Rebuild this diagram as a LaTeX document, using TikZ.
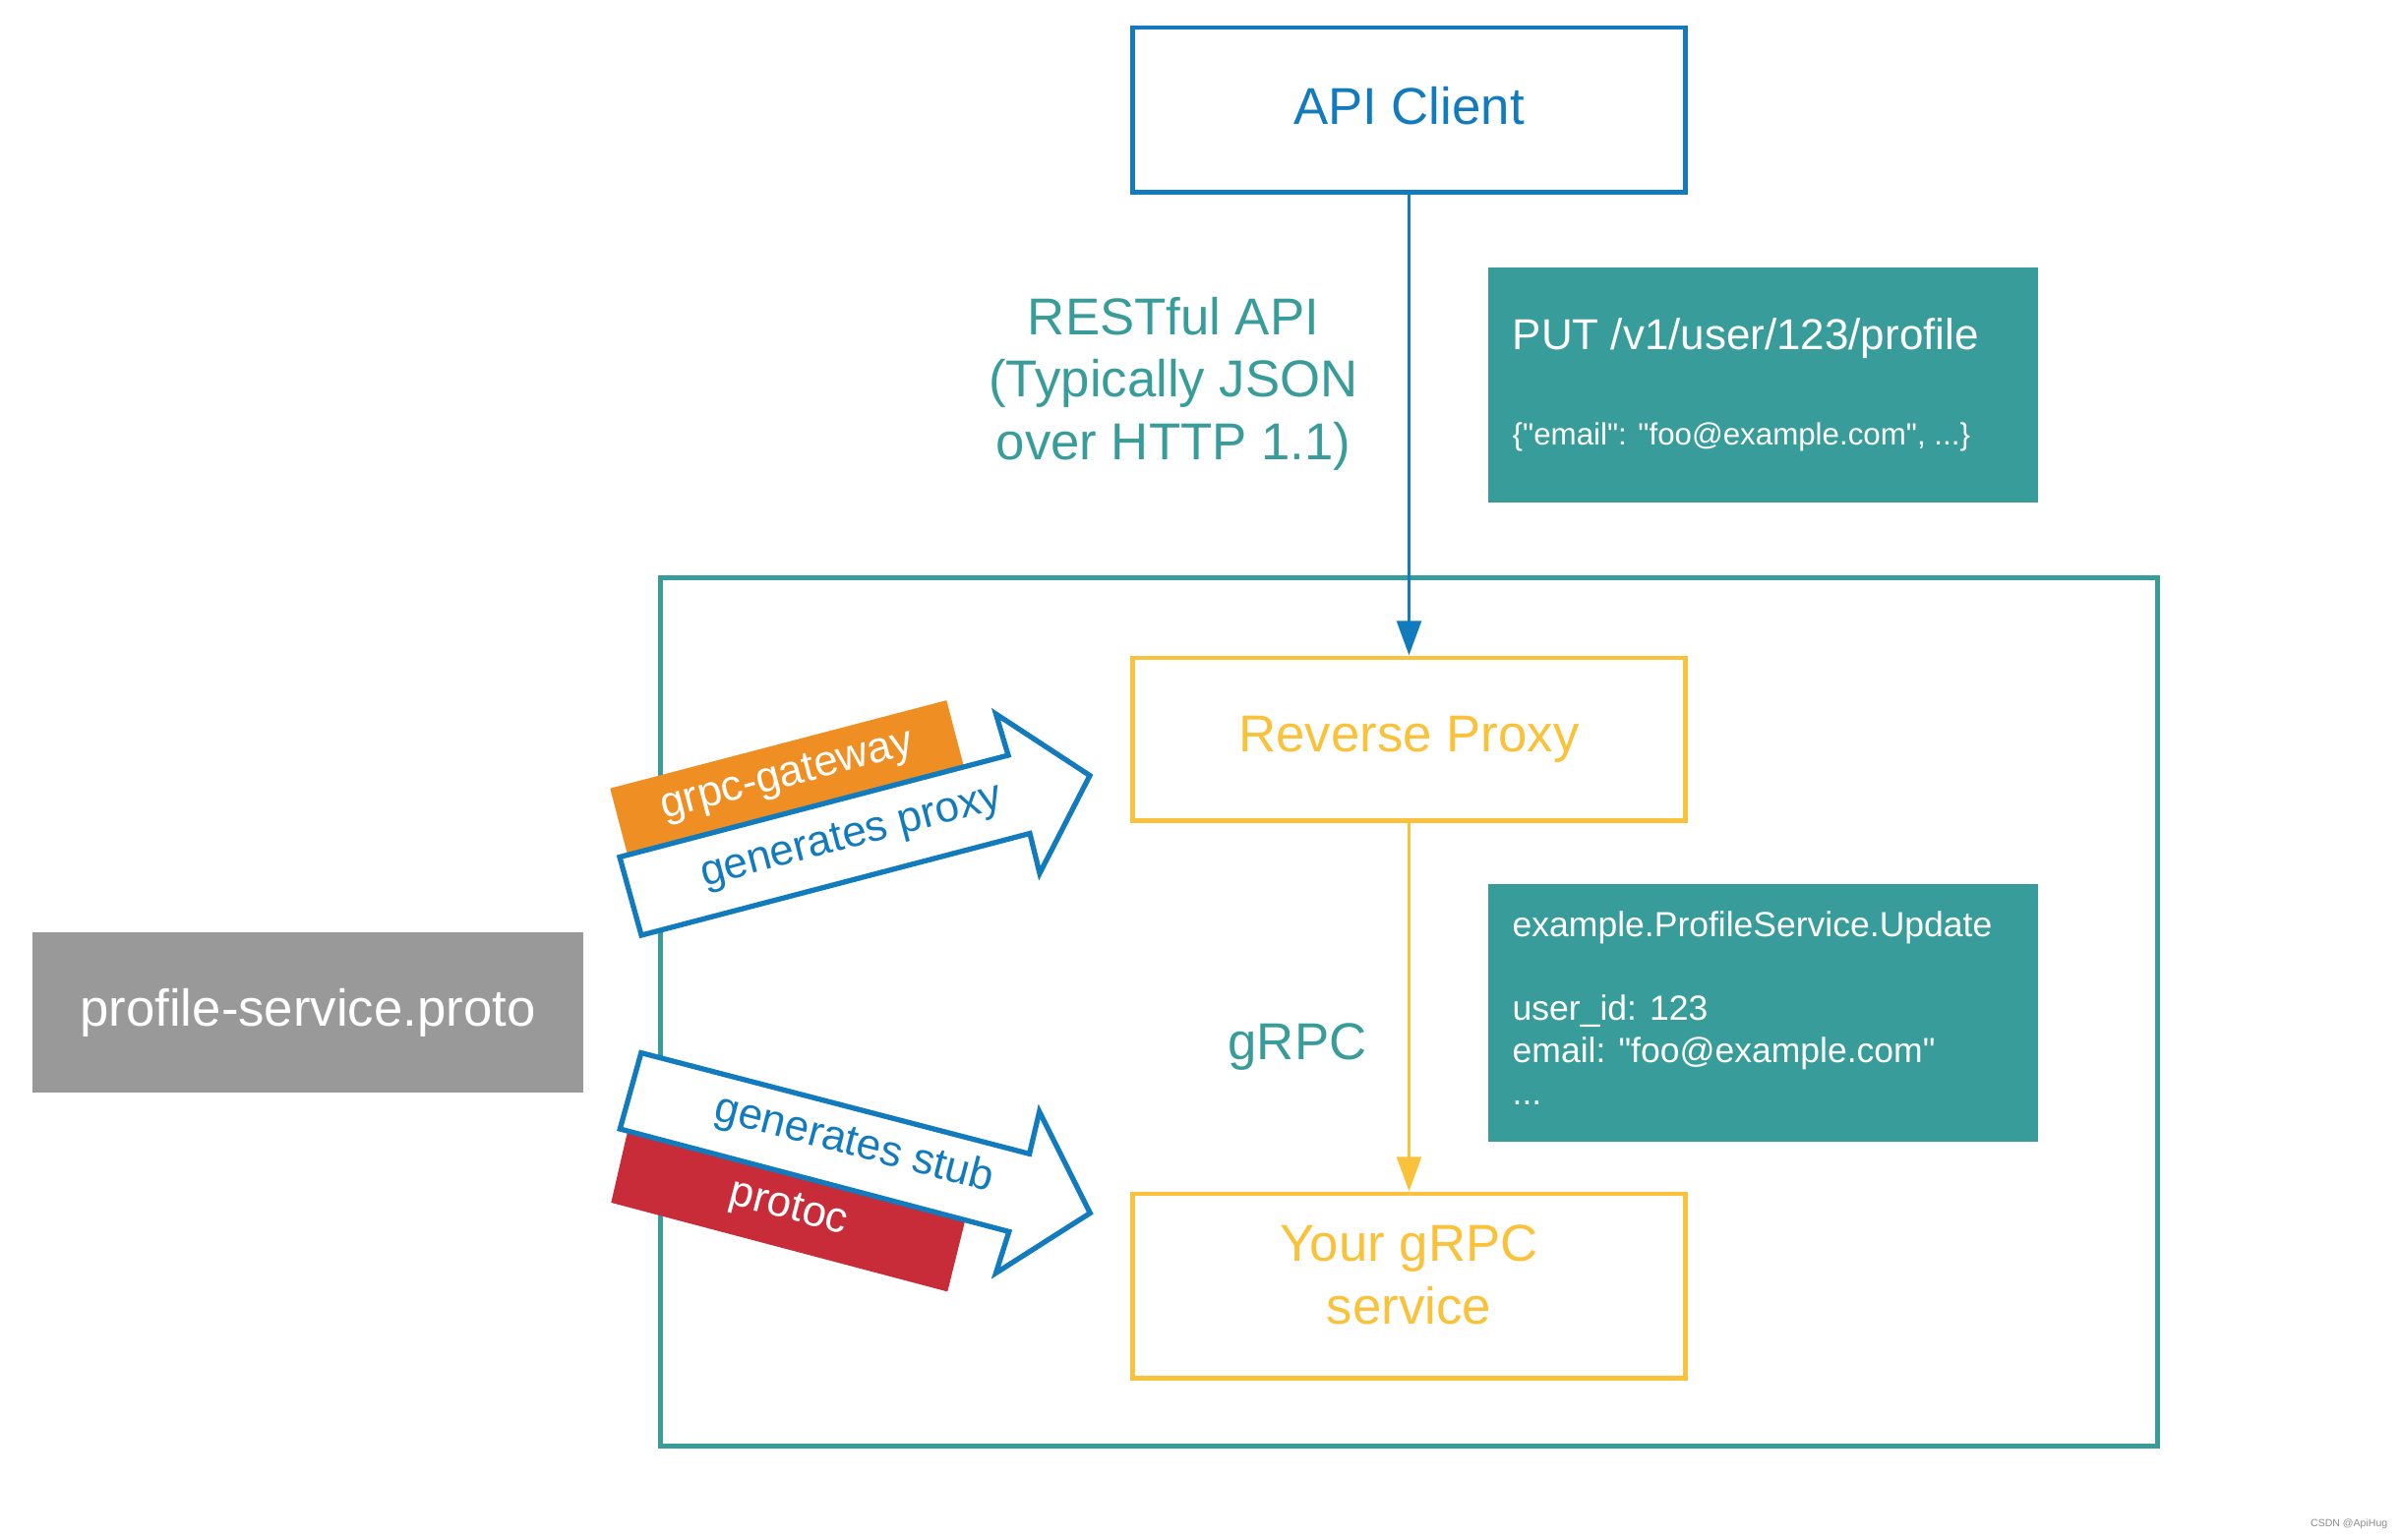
\documentclass[tikz,border=0pt]{standalone}
\usepackage{fontspec}
\setmainfont{Liberation Sans}[Ligatures=TeXOff]
\usetikzlibrary{arrows.meta}
\definecolor{cblue}{RGB}{18,123,190}
\definecolor{cteal}{RGB}{56,157,154}
\definecolor{cyellow}{RGB}{250,194,58}
\definecolor{corange}{RGB}{239,142,34}
\definecolor{cred}{RGB}{199,44,56}
\definecolor{cgray}{RGB}{153,153,153}
\begin{document}
\begin{tikzpicture}[x=0.01cm,y=-0.01cm,
  box/.style={draw, line width=1.4pt, minimum width=5.61cm, inner sep=0pt, font=\fontsize{15}{18.2}\selectfont},
  note/.style={fill=cteal, draw=none, minimum width=5.59cm, inner sep=0pt},
  notetext/.style={anchor=base west, text=white, inner sep=0pt},
  conn/.style={line width=1.1pt, -{Triangle[length=10pt,width=7pt]}},
  bigarrow/.style={draw=cblue, line width=1.5pt, fill=white, line join=miter},
  arrowlabel/.style={text=cblue, font=\fontsize{12.5}{14}\selectfont, inner sep=0pt},
  bandlabel/.style={text=white, font=\fontsize{12.5}{14}\selectfont, inner sep=0pt},
  big/.style={font=\fontsize{15}{18.1}\selectfont}
]
\useasboundingbox (0,0) rectangle (2441,1565);

% container
\node[draw=cteal, line width=1.5pt, minimum width=15.21cm, minimum height=8.82cm, inner sep=0pt] (gw) at (1432.5,1029) {};

% main boxes
\node[box, draw=cblue, text=cblue, minimum height=1.67cm] (api) at (1432.5,111.5) {};
\node[big, text=cblue, inner sep=0pt] (apitext) at (1432.5,108) {API Client};
\node[box, draw=cyellow, text=cyellow, minimum height=1.65cm] (proxy) at (1432.5,751.5) {Reverse Proxy};
\node[box, draw=cyellow, minimum height=1.87cm] (svc) at (1432.5,1307.5) {};
\node[big, text=cyellow, align=center, inner sep=0pt] (svctext) at (1432.5,1296) {Your gRPC\\service};

% connectors
\draw[conn, cblue] (api.south) -- (proxy.north);
\draw[conn, cyellow] (proxy.south) -- (svc.north);

% labels
\node[big, text=cteal, align=center, inner sep=0pt] (rest) at (1193,390) {RESTful API\\(Typically JSON\\over HTTP 1.1)};
\node[big, text=cteal, anchor=base, inner sep=0pt] (grpc) at (1319,1077) {gRPC};

% notes
\node[note, minimum height=2.39cm] (put) at (1792.5,391.5) {};
\node[notetext, font=\fontsize{12.5}{15}\selectfont] (put1) at (1537,355) {PUT /v1/user/123/profile};
\node[notetext, font=\fontsize{8.9}{11}\selectfont] (put2) at (1537,452) {\{"email": "foo@example.com", ...\}};

\node[note, minimum height=2.62cm] (ex) at (1792.5,1030) {};
\node[notetext, font=\fontsize{10.1}{12}\selectfont] (ex1) at (1537,952) {example.ProfileService.Update};
\node[notetext, font=\fontsize{10.1}{12}\selectfont] (ex2) at (1537,1037) {user\_id: 123};
\node[notetext, font=\fontsize{10.1}{12}\selectfont] (ex3) at (1537,1080) {email: "foo@example.com"};
\node[notetext, font=\fontsize{10.1}{12}\selectfont] (ex4) at (1537,1123) {...};

% proto file
\node[fill=cgray, minimum width=5.6cm, minimum height=1.63cm, inner sep=0pt, text=white, big] (proto) at (313,1029.5) {profile-service.proto};

% bands
\fill[corange] (620.3,801.7) -- (962.3,712.1) -- (980,779.8) -- (638,869.4) -- cycle;
\fill[cred] (638.1,1150.1) -- (981.3,1240.7) -- (963.3,1313.4) -- (621.3,1222.9) -- cycle;

% big arrows
\draw[bigarrow] (630,871.5) -- (1025,768) -- (1012.5,726) -- (1108,788.6) -- (1057,888) -- (1047,847.5) -- (652,951) -- cycle;
\draw[bigarrow] (651.8,1070.6) -- (1046.6,1173.3) -- (1056.7,1130.3) -- (1108.3,1233.5) -- (1012.5,1294.5) -- (1025.8,1252.4) -- (630.3,1148) -- cycle;

\node[bandlabel, rotate=14.7] (gwlabel) at (800.5,790) {grpc-gateway};
\node[arrowlabel, rotate=14.7] (proxylabel) at (866,852) {generates proxy};
\node[arrowlabel, rotate=-14.6] (stublabel) at (868,1164) {generates stub};
\node[bandlabel, rotate=-14.6] (protoclabel) at (801.5,1230) {protoc};

% watermark
\node[text=black!45, font=\fontsize{3}{4}\selectfont, anchor=base east, inner sep=0pt] (wm) at (2428,1552) {CSDN @ApiHug};
\end{tikzpicture}
\end{document}
